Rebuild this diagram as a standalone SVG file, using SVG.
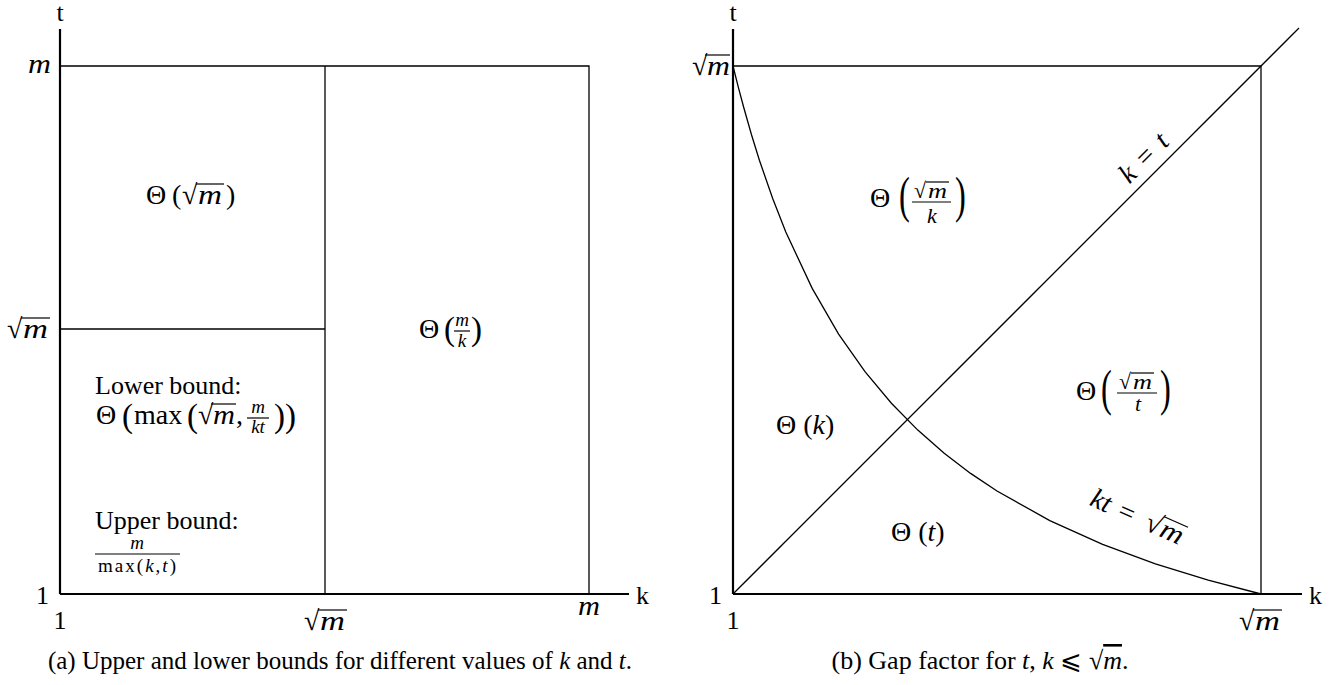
<svg xmlns="http://www.w3.org/2000/svg" width="1343" height="685" viewBox="0 0 1343 685">
<style>
.ax{stroke:#000;stroke-width:2.2;fill:none}
.ln{stroke:#000;stroke-width:1.3;fill:none}
.vb{stroke:#000;stroke-width:1.2}
text{font-family:"Liberation Serif","Times New Roman","DejaVu Serif",serif;fill:#000;font-size:26px}
.it{font-style:italic}
.m{font-size:28px}
.s{font-size:19px}
.f{font-size:22px}
.p{font-size:33px}
.P{font-size:50px}
.cap{font-size:25px}
</style>
<defs>
<marker id="ar" viewBox="-10 -8 12 16" width="12" height="16" refX="0" refY="0" orient="auto" markerUnits="userSpaceOnUse">
<path d="M-7,-6 Q-3,-1.5 0,0 Q-3,1.5 -7,6" fill="none" stroke="#000" stroke-width="2"/>
</marker>
</defs>
<rect width="1343" height="685" fill="#fff"/>

<g id="connectors">
<line class="ax" x1="60" y1="594" x2="60" y2="29" marker-end="url(#ar)"/>
<line class="ax" x1="60" y1="594" x2="629" y2="594" marker-end="url(#ar)"/>
<polyline class="ln" points="60,66 589,66 589,594"/>
<line class="ln" x1="325" y1="66" x2="325" y2="594"/>
<line class="ln" x1="60" y1="329" x2="325" y2="329"/>
<line class="ax" x1="733" y1="594" x2="733" y2="29" marker-end="url(#ar)"/>
<line class="ax" x1="733" y1="594" x2="1302" y2="594" marker-end="url(#ar)"/>
<polyline class="ln" points="733,66 1261,66 1261,594"/>
<line class="ln" x1="733" y1="594" x2="1299" y2="28"/>
<polyline class="ln" points="733,66 738.3,87.1 743.6,107 751.5,134.7 759.4,160.2 772.6,198.3 785.8,232 812.2,288.4 838.6,334.1 865,371.7 891.4,403.2 917.8,430.1 944.2,453.2 970.6,473.4 997,491 1049.8,520.6 1102.6,544.3 1155.4,563.9 1208.2,580.2 1261,594"/>
</g>

<g id="left-axis-labels">
<text x="60" y="21" text-anchor="middle">t</text>
<text x="636" y="604">k</text>
<text class="it m" x="28" y="73" textLength="23" lengthAdjust="spacingAndGlyphs">m</text>
<text class="m" x="7" y="338">√</text><text class="it m" x="23" y="338" textLength="25" lengthAdjust="spacingAndGlyphs">m</text><line class="vb" x1="21" y1="318" x2="50" y2="318"/>
<text x="49" y="604" text-anchor="end">1</text>
<text x="60" y="629" text-anchor="middle">1</text>
<text class="m" x="304" y="630">√</text><text class="it m" x="320" y="630" textLength="25" lengthAdjust="spacingAndGlyphs">m</text><line class="vb" x1="318" y1="610" x2="347" y2="610"/>
<text class="it m" x="578" y="615" textLength="22" lengthAdjust="spacingAndGlyphs">m</text>
</g>

<g id="region-sqrt-m">
<text class="m" x="146" y="204">Θ</text><text class="m" x="172" y="204">(</text><text class="m" x="182" y="204">√</text><text class="it m" x="198" y="204" textLength="24" lengthAdjust="spacingAndGlyphs">m</text><line class="vb" x1="196" y1="184" x2="224" y2="184"/><text class="m" x="226" y="204">)</text>
</g>

<g id="region-m-over-k">
<text class="m" x="419" y="338">Θ</text><text class="p" x="444" y="340">(</text>
<text class="it s" x="462" y="326" text-anchor="middle">m</text><line class="vb" x1="454" y1="331" x2="470" y2="331"/><text class="it s" x="462" y="347" text-anchor="middle">k</text>
<text class="p" x="471" y="340">)</text>
</g>

<g id="region-bounds">
<text x="95" y="394">Lower bound:</text>
<text class="m" x="96" y="424">Θ</text>
<text class="p" x="122" y="427">(</text>
<text class="m" x="134" y="424">max</text>
<text class="p" x="187" y="427">(</text>
<text class="m" x="198" y="424">√</text><text class="it m" x="213" y="424" textLength="22" lengthAdjust="spacingAndGlyphs">m</text><line class="vb" x1="211" y1="404" x2="236" y2="404"/>
<text class="m" x="236" y="424">,</text>
<text class="it s" x="258" y="413" text-anchor="middle">m</text><line class="vb" x1="247" y1="418" x2="269" y2="418"/><text class="it s" x="258" y="433" text-anchor="middle">kt</text>
<text class="p" x="274" y="427">))</text>
<text x="95" y="529">Upper bound:</text>
<text class="it s" x="137" y="549" text-anchor="middle">m</text><line class="vb" x1="95" y1="554" x2="180" y2="554"/>
<text class="s" x="98" y="572" textLength="78" lengthAdjust="spacing">max(<tspan class="it">k</tspan>,<tspan class="it">t</tspan>)</text>
</g>

<g id="right-axis-labels">
<text x="733" y="21" text-anchor="middle">t</text>
<text x="1309" y="604">k</text>
<text class="m" x="692" y="75">√</text><text class="it m" x="707" y="75" textLength="23" lengthAdjust="spacingAndGlyphs">m</text><line class="vb" x1="705" y1="55" x2="730" y2="55"/>
<text x="722" y="604" text-anchor="end">1</text>
<text x="733" y="629" text-anchor="middle">1</text>
<text class="m" x="1239" y="630">√</text><text class="it m" x="1255" y="630" textLength="25" lengthAdjust="spacingAndGlyphs">m</text><line class="vb" x1="1253" y1="610" x2="1282" y2="610"/>
</g>

<g id="region-sqrtm-over-k">
<text class="m" x="870" y="207">Θ</text>
<text class="P" transform="translate(899,212) scale(0.65,1)">(</text>
<text class="f" x="914" y="198">√</text><text class="it f" x="928" y="198" textLength="19" lengthAdjust="spacingAndGlyphs">m</text><line class="vb" x1="926" y1="182" x2="949" y2="182"/>
<line class="vb" x1="912" y1="202" x2="951" y2="202"/><text class="it f" x="932" y="223" text-anchor="middle">k</text>
<text class="P" transform="translate(955,212) scale(0.65,1)">)</text>
</g>

<g id="region-sqrtm-over-t">
<text class="m" x="1076" y="400">Θ</text>
<text class="P" transform="translate(1101,405) scale(0.65,1)">(</text>
<text class="f" x="1119" y="389">√</text><text class="it f" x="1133" y="389" textLength="19" lengthAdjust="spacingAndGlyphs">m</text><line class="vb" x1="1131" y1="373" x2="1154" y2="373"/>
<line class="vb" x1="1117" y1="393" x2="1157" y2="393"/><text class="it f" x="1138" y="411" text-anchor="middle">t</text>
<text class="P" transform="translate(1160,405) scale(0.65,1)">)</text>
</g>

<g id="region-k">
<text class="m" x="776" y="434">Θ (<tspan class="it">k</tspan>)</text>
</g>
<g id="region-t">
<text class="m" x="891" y="541">Θ (<tspan class="it">t</tspan>)</text>
</g>

<g id="label-k-eq-t">
<text class="it m" transform="translate(1150,164) rotate(-45)" text-anchor="middle" word-spacing="4">k <tspan font-style="normal">=</tspan> t</text>
</g>
<g id="label-kt-eq-sqrtm">
<g transform="translate(1136,526) rotate(24)">
<text class="m" x="-52" y="0" word-spacing="3"><tspan class="it">kt</tspan> =</text>
<text class="m" x="8" y="0">√</text><text class="it m" x="24" y="0" textLength="23" lengthAdjust="spacingAndGlyphs">m</text><line class="vb" x1="22" y1="-20" x2="48" y2="-20"/>
</g>
</g>

<g id="captions">
<text class="cap" x="340" y="669" text-anchor="middle">(a) Upper and lower bounds for different values of <tspan class="it">k</tspan> and <tspan class="it">t</tspan>.</text>
<text x="980" y="669" text-anchor="middle" font-size="24">(b) Gap factor for <tspan class="it">t</tspan>, <tspan class="it">k</tspan> ⩽ √<tspan class="it" text-decoration="overline">m</tspan>.</text>
</g>
</svg>
